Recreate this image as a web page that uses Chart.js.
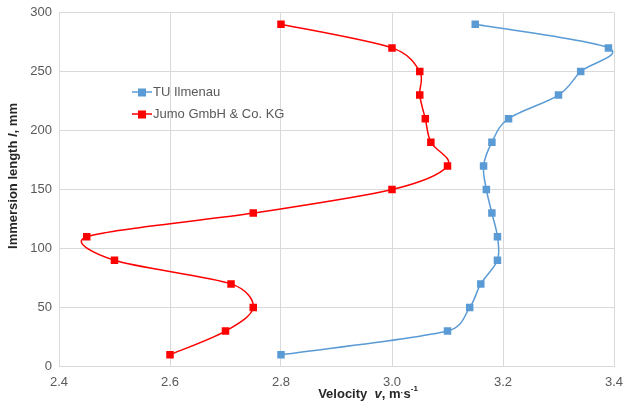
<!DOCTYPE html>
<html>
<head>
<meta charset="utf-8">
<script src="https://cdn.jsdelivr.net/npm/chart.js@4"></script>
<style>
    html, body { margin: 0; padding: 0; background: #fff; }
    #wrap { width: 625px; height: 414px; position: relative; }
</style>
</head>
<body>
<div id="wrap"><canvas id="chart"></canvas></div>
<script>
// immersion depths, mm
var depths = [10, 30, 50, 70, 90, 110, 130, 150, 170, 190, 210, 230, 250, 270, 290];
// velocity, m/s
var tuIlmenau = [2.8, 3.1, 3.14, 3.16, 3.19, 3.19, 3.18, 3.17, 3.165, 3.18, 3.21, 3.3, 3.34, 3.39, 3.15];
var jumo = [2.6, 2.7, 2.75, 2.71, 2.5, 2.45, 2.75, 3.0, 3.1, 3.07, 3.06, 3.05, 3.05, 3.0, 2.8];
var seriesNames = ['TU Ilmenau', 'Jumo GmbH & Co. KG'];
var seriesColors = ['#5B9BD5', '#FF0000'];

function toPoints(xs) {
    return xs.map(function (v, i) { return { x: v, y: depths[i] }; });
}

var font = "'Liberation Sans', Arial, sans-serif";

// Excel-like smoothing: tangent along (next - prev), length span/6, capped at half the segment
var smoothing = {
    id: 'smoothing',
    beforeDatasetDraw: function (chart, args) {
        var line = args.meta.dataset;
        if (!line) return;
        line.updateControlPoints(chart.chartArea);
        var pts = args.meta.data;
        var n = pts.length;
        function dist(a, b) { return Math.hypot(a.x - b.x, a.y - b.y); }
        for (var i = 0; i < n; i++) {
            var p = pts[i];
            var prev = pts[Math.max(i - 1, 0)];
            var next = pts[Math.min(i + 1, n - 1)];
            var d02 = dist(prev, next);
            if (d02 === 0) { p.cp1x = p.cp2x = p.x; p.cp1y = p.cp2y = p.y; continue; }
            var ux = (next.x - prev.x) / d02;
            var uy = (next.y - prev.y) / d02;
            var l1 = Math.min(d02 / 6, dist(prev, p) / 2);
            var l2 = Math.min(d02 / 6, dist(p, next) / 2);
            p.cp1x = p.x - ux * l1;
            p.cp1y = p.y - uy * l1;
            p.cp2x = p.x + ux * l2;
            p.cp2y = p.y + uy * l2;
        }
    }
};

// legend inside the plot + axis titles with italic symbols
var extras = {
    id: 'extras',
    afterDraw: function (chart) {
        var ctx = chart.ctx;
        ctx.save();
        chart.data.datasets.forEach(function (ds, i) {
            var y = 92 + i * 22;
            ctx.strokeStyle = ds.borderColor;
            ctx.lineWidth = 1.5;
            ctx.beginPath();
            ctx.moveTo(132, y);
            ctx.lineTo(152, y);
            ctx.stroke();
            ctx.fillStyle = ds.borderColor;
            ctx.fillRect(138, y - 3.5, 8, 8);
            ctx.fillStyle = '#595959';
            ctx.font = '13px ' + font;
            ctx.textBaseline = 'middle';
            ctx.textAlign = 'left';
            ctx.fillText(ds.label, 153, y);
        });

        function drawParts(parts, x, y) {
            var total = 0;
            parts.forEach(function (p) { ctx.font = p.f; total += ctx.measureText(p.t).width; });
            var cx = x - total / 2;
            parts.forEach(function (p) {
                ctx.font = p.f;
                ctx.fillText(p.t, cx, y + (p.dy || 0));
                cx += ctx.measureText(p.t).width;
            });
        }
        ctx.fillStyle = '#262626';
        ctx.textBaseline = 'middle';
        ctx.textAlign = 'left';
        drawParts([
            { t: 'Velocity  ', f: 'bold 13px ' + font },
            { t: 'v', f: 'bold italic 13px ' + font },
            { t: ', m', f: 'bold 13px ' + font },
            { t: '·', f: 'bold 9px ' + font },
            { t: 's', f: 'bold 13px ' + font },
            { t: '-1', f: 'bold 8px ' + font, dy: -5 }
        ], 368, 394);
        ctx.translate(13, 176);
        ctx.rotate(-Math.PI / 2);
        drawParts([
            { t: 'Immersion length ', f: 'bold 13px ' + font },
            { t: 'l', f: 'bold italic 13px ' + font },
            { t: ', mm', f: 'bold 13px ' + font }
        ], 0, 0);
        ctx.restore();
    }
};

var ctx = document.getElementById('chart').getContext('2d');
var chart = new Chart(ctx, {
    type: 'scatter',
    data: {
        datasets: [{
            label: seriesNames[0],
            data: toPoints(tuIlmenau),
            borderColor: seriesColors[0],
            backgroundColor: seriesColors[0],
            showLine: true,
            borderWidth: 1.5,
            tension: 0.3,
            pointStyle: 'rect',
            pointRadius: 5.3,
            pointBorderWidth: 0
        }, {
            label: seriesNames[1],
            data: toPoints(jumo),
            borderColor: seriesColors[1],
            backgroundColor: seriesColors[1],
            showLine: true,
            borderWidth: 1.5,
            tension: 0.3,
            pointStyle: 'rect',
            pointRadius: 5.3,
            pointBorderWidth: 0
        }]
    },
    options: {
        responsive: true,
        maintainAspectRatio: false,
        animation: false,
        layout: { padding: { top: 12.5, right: 11, left: 0, bottom: 0 } },
        plugins: {
            legend: { display: false },
            tooltip: { enabled: false }
        },
        scales: {
            x: {
                type: 'linear',
                min: 2.4,
                max: 3.4,
                ticks: {
                    stepSize: 0.2,
                    color: '#595959',
                    font: { family: font, size: 13 },
                    padding: 8,
                    callback: function (v) { return v.toFixed(1); }
                },
                grid: { color: '#d9d9d9', drawTicks: false },
                border: { color: '#d9d9d9' },
                afterFit: function (s) {
                    s.height = 414 - 366.5;
                    s.paddingLeft = 0;
                    s.paddingRight = 0;
                }
            },
            y: {
                min: 0,
                max: 300,
                ticks: {
                    stepSize: 50,
                    color: '#595959',
                    font: { family: font, size: 13 },
                    padding: 7
                },
                grid: { color: '#d9d9d9', drawTicks: false },
                border: { color: '#d9d9d9' },
                afterFit: function (s) {
                    s.width = 59;
                    s.paddingTop = 0;
                    s.paddingBottom = 0;
                }
            }
        }
    },
    plugins: [smoothing, extras]
});
</script>
</body>
</html>
